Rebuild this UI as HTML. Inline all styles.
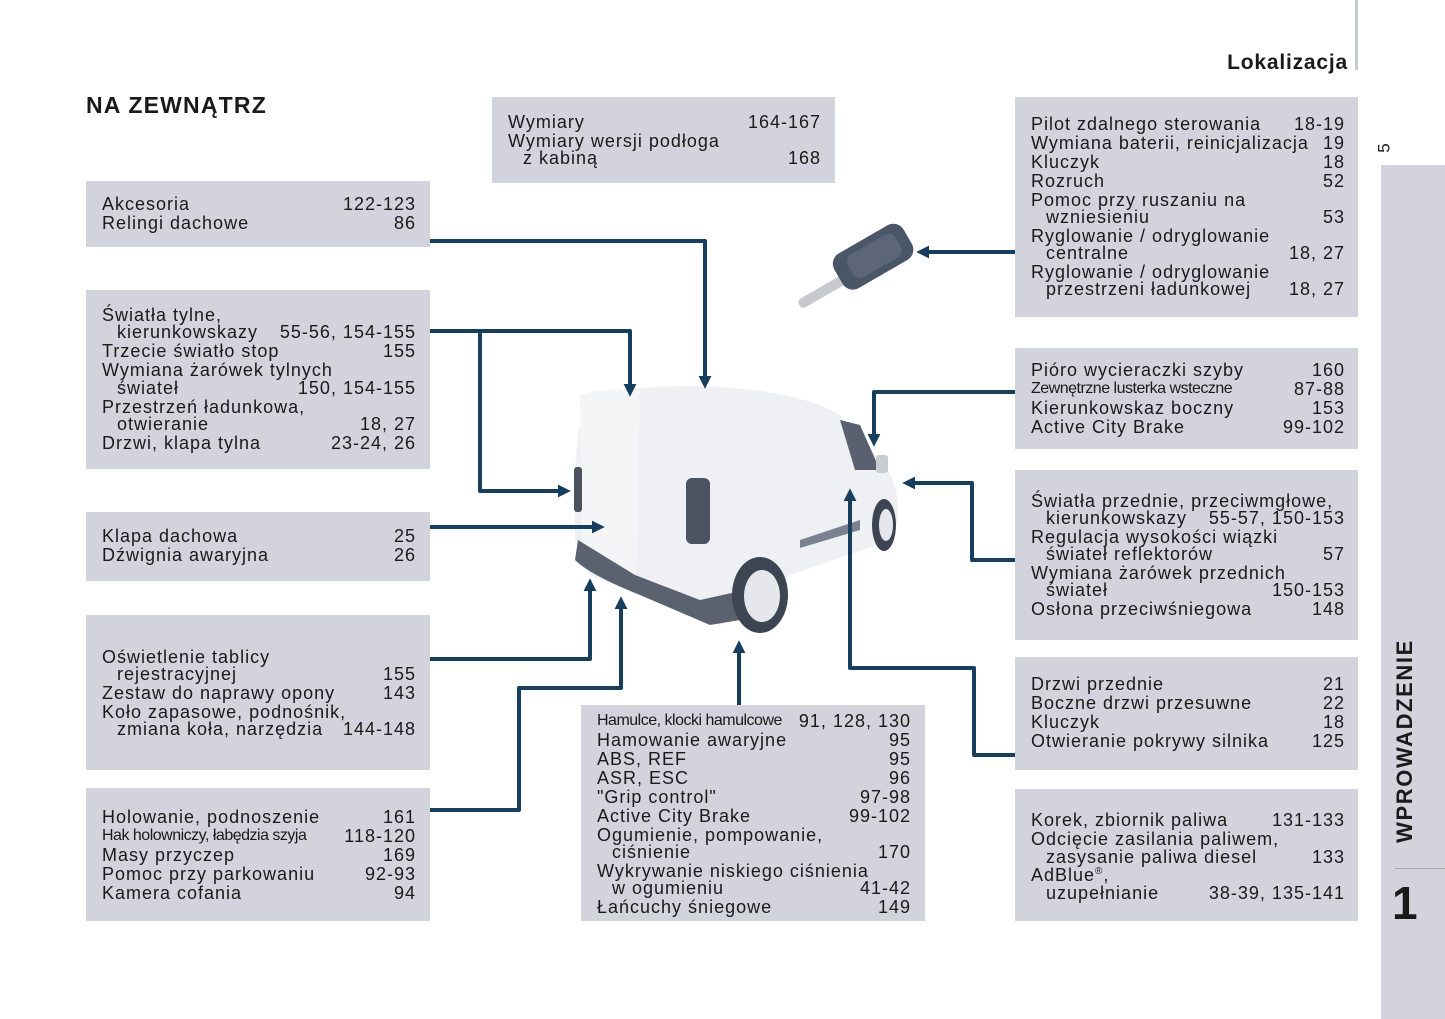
<!DOCTYPE html>
<html><head><meta charset="utf-8"><style>
body{margin:0;width:1445px;height:1019px;background:#fff;position:relative;overflow:hidden;font-family:"Liberation Sans",sans-serif;color:#1a1a1a}
.bx{position:absolute;background:#d2d3dc}
.t{position:absolute;height:20px;line-height:20px;font-size:18px;letter-spacing:1px;white-space:nowrap}
.t b{position:absolute;right:0;top:0;font-weight:normal}
.c{font-size:16px;letter-spacing:-0.5px}
.c b{font-size:18px;letter-spacing:1px}
.i{padding-left:15px;box-sizing:border-box}
</style></head><body>
<div style="position:absolute;left:1355px;top:0;width:3px;height:70px;background:#c8c8d0"></div>
<div style="position:absolute;left:1150px;top:51px;width:198px;text-align:right;font-weight:bold;font-size:21px;letter-spacing:0.8px">Lokalizacja</div>
<div style="position:absolute;left:86px;top:92px;font-weight:bold;font-size:23px;letter-spacing:1.2px">NA ZEWNĄTRZ</div>
<div style="position:absolute;left:1381px;top:165px;width:64px;height:854px;background:#d2d3dc"></div>
<div style="position:absolute;left:1380px;top:138px;font-size:17px;transform:rotate(-90deg)">5</div>
<div style="position:absolute;left:1280px;top:728px;width:250px;text-align:center;font-weight:bold;font-size:22px;letter-spacing:1.6px;transform:rotate(-90deg)">WPROWADZENIE</div>
<div style="position:absolute;left:1395px;top:868px;width:50px;height:1px;background:#aaa"></div>
<div style="position:absolute;left:1392px;top:878px;font-weight:bold;font-size:46px;line-height:50px">1</div>

<div class="bx" style="left:492px;top:97px;width:343px;height:86px"></div>
<div class="bx" style="left:86px;top:181px;width:344px;height:66px"></div>
<div class="bx" style="left:86px;top:290px;width:344px;height:179px"></div>
<div class="bx" style="left:86px;top:512px;width:344px;height:69px"></div>
<div class="bx" style="left:86px;top:615px;width:344px;height:155px"></div>
<div class="bx" style="left:86px;top:788px;width:344px;height:133px"></div>
<div class="bx" style="left:581px;top:705px;width:344px;height:216px"></div>
<div class="bx" style="left:1015px;top:97px;width:343px;height:220px"></div>
<div class="bx" style="left:1015px;top:348px;width:343px;height:101px"></div>
<div class="bx" style="left:1015px;top:470px;width:343px;height:170px"></div>
<div class="bx" style="left:1015px;top:657px;width:343px;height:113px"></div>
<div class="bx" style="left:1015px;top:789px;width:343px;height:132px"></div>

<svg style="position:absolute;left:0;top:0" width="1445" height="1019">
<defs><marker id="a" markerWidth="3.2" markerHeight="3.2" refX="2" refY="1.6" orient="auto" markerUnits="strokeWidth"><path d="M0,0 L3.2,1.6 L0,3.2 Z" fill="#173e5d"/></marker></defs>
<g transform="rotate(-30 860 270)">
<rect x="790" y="265" width="60" height="10" rx="4" fill="#c8c9cf"/>
<rect x="838" y="245" width="80" height="40" rx="12" fill="#4a5568"/>
<rect x="852" y="252" width="55" height="26" rx="8" fill="#5c6678"/>
</g>
<path d="M590 400 Q620 385 700 386 Q800 390 840 415 L880 460 Q900 480 898 520 L892 540 L790 575 L760 600 L720 625 L680 610 L590 575 L575 540 L575 470 Q578 415 590 400 Z" fill="#eef0f3"/>
<path d="M580 395 Q600 388 640 390 L636 595 L582 565 Z" fill="#f4f5f7"/>
<path d="M578 540 L575 560 Q590 575 640 595 L710 625 L740 620 L745 590 L700 600 L635 575 Z" fill="#5a6270"/>
<path d="M840 420 L860 425 L880 470 L855 470 Z" fill="#596170"/>
<path d="M800 540 L860 520 L860 530 L800 548 Z" fill="#7a8190"/>
<rect x="686" y="478" width="24" height="66" rx="6" fill="#4b5260"/>
<rect x="574" y="467" width="8" height="45" rx="3" fill="#4b5260"/>
<ellipse cx="760" cy="595" rx="28" ry="38" fill="#3d4452"/>
<ellipse cx="762" cy="596" rx="18" ry="26" fill="#e5e7ec"/>
<ellipse cx="884" cy="525" rx="12" ry="26" fill="#3d4452"/>
<ellipse cx="886" cy="525" rx="7" ry="16" fill="#e5e7ec"/>
<rect x="876" y="455" width="12" height="18" rx="3" fill="#c9ccd3"/>
<g fill="none" stroke="#173e5d" stroke-width="4" stroke-linejoin="round">
<path d="M430 241 H705 V384" marker-end="url(#a)"/>
<path d="M430 331 H630 V392" marker-end="url(#a)"/>
<path d="M480 331 V491 H566" marker-end="url(#a)"/>
<path d="M430 527 H600" marker-end="url(#a)"/>
<path d="M430 659 H590 V583" marker-end="url(#a)"/>
<path d="M430 810 H519 V688 H621 V601" marker-end="url(#a)"/>
<path d="M739 705 V645" marker-end="url(#a)"/>
<path d="M1015 252 H921" marker-end="url(#a)"/>
<path d="M1015 392 H874 V442" marker-end="url(#a)"/>
<path d="M1015 560 H972 V483 H907" marker-end="url(#a)"/>
<path d="M1015 755 H974 V668 H850 V493" marker-end="url(#a)"/>
</g>
</svg>

<div class="t" style="left:508px;top:112px;width:313px">Wymiary<b>164-167</b></div>
<div class="t" style="left:508px;top:131px;width:313px">Wymiary wersji podłoga</div>
<div class="t i" style="left:508px;top:148px;width:313px">z kabiną<b>168</b></div>

<div class="t" style="left:102px;top:194px;width:314px">Akcesoria<b>122-123</b></div>
<div class="t" style="left:102px;top:213px;width:314px">Relingi dachowe<b>86</b></div>

<div class="t" style="left:102px;top:305px;width:314px">Światła tylne,</div>
<div class="t i" style="left:102px;top:322px;width:314px">kierunkowskazy<b>55-56, 154-155</b></div>
<div class="t" style="left:102px;top:341px;width:314px">Trzecie światło stop<b>155</b></div>
<div class="t" style="left:102px;top:360px;width:314px">Wymiana żarówek tylnych</div>
<div class="t i" style="left:102px;top:378px;width:314px">świateł<b>150, 154-155</b></div>
<div class="t" style="left:102px;top:397px;width:314px">Przestrzeń ładunkowa,</div>
<div class="t i" style="left:102px;top:414px;width:314px">otwieranie<b>18, 27</b></div>
<div class="t" style="left:102px;top:433px;width:314px">Drzwi, klapa tylna<b>23-24, 26</b></div>

<div class="t" style="left:102px;top:526px;width:314px">Klapa dachowa<b>25</b></div>
<div class="t" style="left:102px;top:545px;width:314px">Dźwignia awaryjna<b>26</b></div>

<div class="t" style="left:102px;top:647px;width:314px">Oświetlenie tablicy</div>
<div class="t i" style="left:102px;top:664px;width:314px">rejestracyjnej<b>155</b></div>
<div class="t" style="left:102px;top:683px;width:314px">Zestaw do naprawy opony<b>143</b></div>
<div class="t" style="left:102px;top:702px;width:314px">Koło zapasowe, podnośnik,</div>
<div class="t i" style="left:102px;top:719px;width:314px">zmiana koła, narzędzia<b>144-148</b></div>

<div class="t" style="left:102px;top:807px;width:314px">Holowanie, podnoszenie<b>161</b></div>
<div class="t c" style="left:102px;top:826px;width:314px">Hak holowniczy, łabędzia szyja<b>118-120</b></div>
<div class="t" style="left:102px;top:845px;width:314px">Masy przyczep<b>169</b></div>
<div class="t" style="left:102px;top:864px;width:314px">Pomoc przy parkowaniu<b>92-93</b></div>
<div class="t" style="left:102px;top:883px;width:314px">Kamera cofania<b>94</b></div>

<div class="t c" style="left:597px;top:711px;width:314px">Hamulce, klocki hamulcowe<b>91, 128, 130</b></div>
<div class="t" style="left:597px;top:730px;width:314px">Hamowanie awaryjne<b>95</b></div>
<div class="t" style="left:597px;top:749px;width:314px">ABS, REF<b>95</b></div>
<div class="t" style="left:597px;top:768px;width:314px">ASR, ESC<b>96</b></div>
<div class="t" style="left:597px;top:787px;width:314px">"Grip control"<b>97-98</b></div>
<div class="t" style="left:597px;top:806px;width:314px">Active City Brake<b>99-102</b></div>
<div class="t" style="left:597px;top:825px;width:314px">Ogumienie, pompowanie,</div>
<div class="t i" style="left:597px;top:842px;width:314px">ciśnienie<b>170</b></div>
<div class="t" style="left:597px;top:861px;width:314px">Wykrywanie niskiego ciśnienia</div>
<div class="t i" style="left:597px;top:878px;width:314px">w ogumieniu<b>41-42</b></div>
<div class="t" style="left:597px;top:897px;width:314px">Łańcuchy śniegowe<b>149</b></div>

<div class="t" style="left:1031px;top:114px;width:314px">Pilot zdalnego sterowania<b>18-19</b></div>
<div class="t" style="left:1031px;top:133px;width:314px">Wymiana baterii, reinicjalizacja<b>19</b></div>
<div class="t" style="left:1031px;top:152px;width:314px">Kluczyk<b>18</b></div>
<div class="t" style="left:1031px;top:171px;width:314px">Rozruch<b>52</b></div>
<div class="t" style="left:1031px;top:190px;width:314px">Pomoc przy ruszaniu na</div>
<div class="t i" style="left:1031px;top:207px;width:314px">wzniesieniu<b>53</b></div>
<div class="t" style="left:1031px;top:226px;width:314px">Ryglowanie / odryglowanie</div>
<div class="t i" style="left:1031px;top:243px;width:314px">centralne<b>18, 27</b></div>
<div class="t" style="left:1031px;top:262px;width:314px">Ryglowanie / odryglowanie</div>
<div class="t i" style="left:1031px;top:279px;width:314px">przestrzeni ładunkowej<b>18, 27</b></div>

<div class="t" style="left:1031px;top:360px;width:314px">Pióro wycieraczki szyby<b>160</b></div>
<div class="t c" style="left:1031px;top:379px;width:314px">Zewnętrzne lusterka wsteczne<b>87-88</b></div>
<div class="t" style="left:1031px;top:398px;width:314px">Kierunkowskaz boczny<b>153</b></div>
<div class="t" style="left:1031px;top:417px;width:314px">Active City Brake<b>99-102</b></div>

<div class="t" style="left:1031px;top:491px;width:314px">Światła przednie, przeciwmgłowe,</div>
<div class="t i" style="left:1031px;top:508px;width:314px">kierunkowskazy<b>55-57, 150-153</b></div>
<div class="t" style="left:1031px;top:527px;width:314px">Regulacja wysokości wiązki</div>
<div class="t i" style="left:1031px;top:544px;width:314px">świateł reflektorów<b>57</b></div>
<div class="t" style="left:1031px;top:563px;width:314px">Wymiana żarówek przednich</div>
<div class="t i" style="left:1031px;top:580px;width:314px">świateł<b>150-153</b></div>
<div class="t" style="left:1031px;top:599px;width:314px">Osłona przeciwśniegowa<b>148</b></div>

<div class="t" style="left:1031px;top:674px;width:314px">Drzwi przednie<b>21</b></div>
<div class="t" style="left:1031px;top:693px;width:314px">Boczne drzwi przesuwne<b>22</b></div>
<div class="t" style="left:1031px;top:712px;width:314px">Kluczyk<b>18</b></div>
<div class="t" style="left:1031px;top:731px;width:314px">Otwieranie pokrywy silnika<b>125</b></div>

<div class="t" style="left:1031px;top:810px;width:314px">Korek, zbiornik paliwa<b>131-133</b></div>
<div class="t" style="left:1031px;top:829px;width:314px">Odcięcie zasilania paliwem,</div>
<div class="t i" style="left:1031px;top:847px;width:314px">zasysanie paliwa diesel<b>133</b></div>
<div class="t" style="left:1031px;top:865px;width:314px">AdBlue<sup style="font-size:10px;line-height:0">®</sup>,</div>
<div class="t i" style="left:1031px;top:883px;width:314px">uzupełnianie<b>38-39, 135-141</b></div>
</body></html>
